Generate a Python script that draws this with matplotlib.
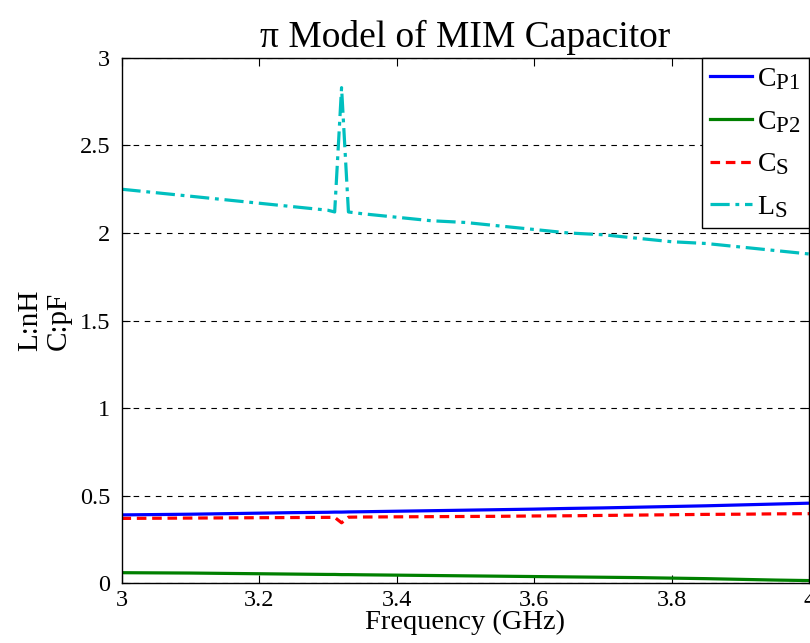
import matplotlib
matplotlib.use("Agg")
import matplotlib.pyplot as plt

try:
    # larger subscripts, closer to the MATLAB look
    import matplotlib._mathtext as _mt
    _mt.SHRINK_FACTOR = 0.82
except Exception:
    pass

plt.rcParams['font.family'] = ['Liberation Serif', 'DejaVu Serif']
plt.rcParams['mathtext.fontset'] = 'custom'
plt.rcParams['mathtext.rm'] = 'Liberation Serif'
plt.rcParams['mathtext.it'] = 'Liberation Serif:italic'

# frequency points (GHz)
freq = [3.00, 3.05, 3.10, 3.15, 3.20, 3.25, 3.30, 3.31, 3.32, 3.33, 3.35,
        3.40, 3.45, 3.50, 3.55, 3.60, 3.65, 3.70, 3.75, 3.80, 3.85, 3.90,
        3.95, 4.00]

cp1 = [0.390, 0.392, 0.394, 0.397, 0.400, 0.403, 0.405, 0.406, 0.406, 0.407,
       0.408, 0.411, 0.414, 0.417, 0.420, 0.423, 0.427, 0.430, 0.434, 0.438,
       0.442, 0.447, 0.452, 0.457]

cp2 = [0.060, 0.059, 0.058, 0.056, 0.054, 0.052, 0.050, 0.050, 0.049, 0.049,
       0.048, 0.046, 0.044, 0.042, 0.040, 0.038, 0.036, 0.034, 0.032, 0.029,
       0.026, 0.022, 0.018, 0.015]

cs = [0.370, 0.371, 0.372, 0.373, 0.374, 0.375, 0.376, 0.376, 0.345, 0.377,
      0.378, 0.379, 0.380, 0.381, 0.382, 0.384, 0.385, 0.387, 0.389, 0.391,
      0.393, 0.394, 0.396, 0.397]

ls = [2.25, 2.23, 2.21, 2.19, 2.17, 2.15, 2.13, 2.12, 2.83, 2.12, 2.11,
      2.09, 2.07, 2.06, 2.04, 2.02, 2.00, 1.99, 1.97, 1.95, 1.94, 1.92,
      1.90, 1.88]

xticks = [3, 3.2, 3.4, 3.6, 3.8, 4]
xtick_labels = ["3", "3.2", "3.4", "3.6", "3.8", "4"]
yticks = [0, 0.5, 1, 1.5, 2, 2.5, 3]
ytick_labels = ["0", "0.5", "1", "1.5", "2", "2.5", "3"]

fig = plt.figure(figsize=(8.1, 6.43), dpi=100)
ax = fig.add_axes([0.15, 0.093, 0.849, 0.817])

ax.plot(freq, cp1, color='#0000ff', lw=2.3, label=r'$\mathrm{C_{P1}}$')
ax.plot(freq, cp2, color='#008000', lw=2.3, label=r'$\mathrm{C_{P2}}$')
ax.plot(freq, cs, color='#ff0000', lw=2.3, ls=(0, (3, 1.8)), label=r'$\mathrm{C_{S}}$')
ax.plot(freq, ls, color='#00bfbf', lw=2.3, ls=(0, (6, 1.8, 1.2, 1.8)), label=r'$\mathrm{L_{S}}$')

ax.set_xlim(3, 4)
ax.set_ylim(0, 3)
ax.set_xticks(xticks)
ax.set_xticklabels(xtick_labels)
ax.set_yticks(yticks)
ax.set_yticklabels(ytick_labels)
ax.yaxis.grid(True, color='black', ls=(0, (5, 5)), lw=0.8)
ax.tick_params(direction='in', top=True, right=True, labelsize=17.5, length=6, width=0.8)
ax.tick_params(axis='x', pad=5)
ax.tick_params(axis='y', pad=8)
for spine in ax.spines.values():
    spine.set_linewidth(1.0)

ax.set_title('π Model of MIM Capacitor', fontsize=27, pad=8)
ax.set_xlabel('Frequency (GHz)', fontsize=20.5, labelpad=-1)
ax.set_ylabel('L:nH\nC:pF', fontsize=21, labelpad=6, linespacing=1.1)

leg = ax.legend(loc='upper right', fontsize=20, frameon=True, fancybox=False,
                edgecolor='black', framealpha=1, handlelength=1.5,
                borderaxespad=0, labelspacing=0.6, handletextpad=0.2,
                borderpad=0.3)
leg.get_frame().set_linewidth(1.0)

fig.savefig('out.png', dpi=100)
